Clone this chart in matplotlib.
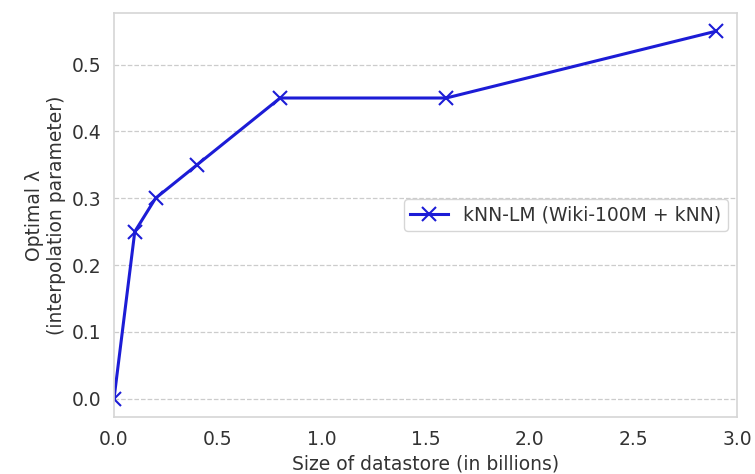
import matplotlib
matplotlib.use("Agg")
import matplotlib.pyplot as plt

sizes = [0.0, 0.1, 0.2, 0.4, 0.8, 1.6, 2.9]
lambdas = [0.0, 0.25, 0.30, 0.35, 0.45, 0.45, 0.55]
label = "kNN-LM (Wiki-100M + kNN)"

plt.rcParams['font.family'] = ['DejaVu Sans']
fig = plt.figure(figsize=(7.55, 4.74), dpi=100)
ax = fig.add_axes([0.151, 0.120, 0.825, 0.853])

ax.plot(sizes, lambdas, color='#1c1cd6', lw=2.2, marker='x', ms=9.5, mew=1.5, label=label)
ax.set_xlim(0, 3.0)
ax.set_ylim(-0.0275, 0.5775)
ax.set_yticks([0.0, 0.1, 0.2, 0.3, 0.4, 0.5])
ax.set_xticks([0.0, 0.5, 1.0, 1.5, 2.0, 2.5, 3.0])
ax.grid(axis='y', linestyle='--', color='#cccccc', lw=0.9)
ax.set_axisbelow(True)
for s in ax.spines.values():
    s.set_color('#d5d5d5')
    s.set_linewidth(1.2)
ax.tick_params(length=0, labelsize=13.5, labelcolor='#333333', pad=9)
ax.set_xlabel("Size of datastore (in billions)", fontsize=13.5, color='#333333', labelpad=4)
ax.set_ylabel("Optimal λ\n(interpolation parameter)", fontsize=13.5, color='#333333', labelpad=4)
leg = ax.legend(loc='center right', fontsize=13.5, frameon=True, fancybox=True,
                borderpad=0.35, handletextpad=0.8)
leg.get_frame().set_edgecolor('#cccccc')
for t in leg.get_texts():
    t.set_color('#333333')
fig.savefig("out.png", dpi=100)
